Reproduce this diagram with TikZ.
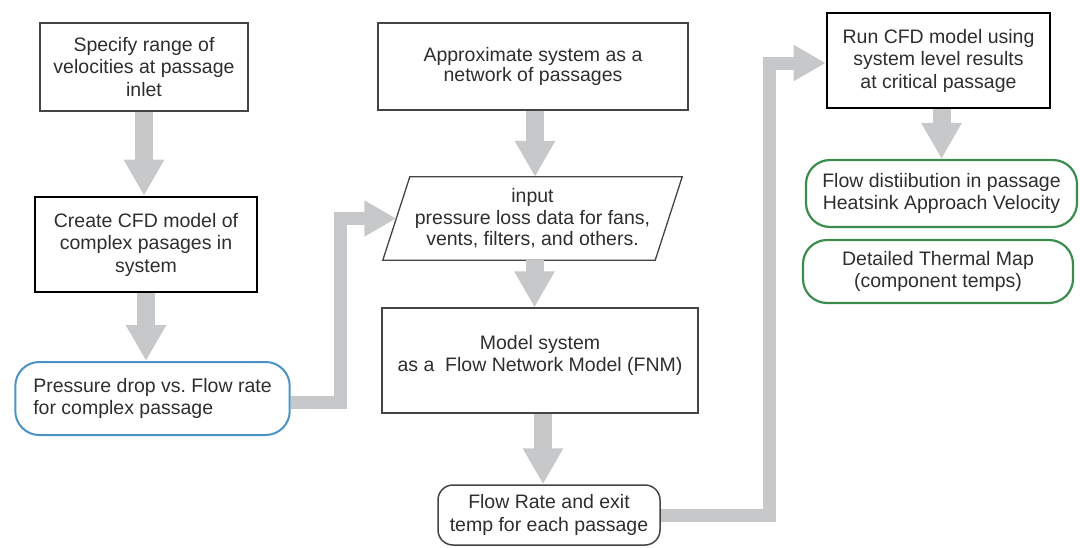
\documentclass[tikz,border=0pt]{standalone}
\usepackage{fontspec}
\setmainfont{Liberation Sans}
\usetikzlibrary{arrows.meta,calc}
\frenchspacing

\definecolor{txtgray}{HTML}{2E2E2E}
\definecolor{pipegray}{HTML}{C6C8CA}
\definecolor{edgegray}{HTML}{444444}
\definecolor{passblue}{HTML}{4A93C4}
\definecolor{resgreen}{HTML}{3C8C4E}

\tikzset{
  every node/.style={text=txtgray, font=\fontsize{19.5}{22.5}\selectfont},
  plainbox/.style={draw=edgegray, line width=1.3pt, align=center, inner sep=0pt},
  heavybox/.style={draw=black, line width=2.6pt, align=center, inner sep=0pt},
  bluebox/.style={draw=passblue, line width=2pt, rounded corners=24pt, align=left, inner xsep=18pt},
  greenbox/.style={draw=resgreen, line width=2.2pt, rounded corners=24pt, align=center, inner sep=0pt},
  greybox/.style={draw=edgegray, line width=1.5pt, rounded corners=15pt, align=center, inner sep=0pt},
  fatarrow/.style={draw=pipegray, line width=18pt, -{Triangle[width=38pt,length=36pt]}},
  pipe/.style={draw=pipegray, line width=13pt, line join=miter, -{Triangle[width=34pt,length=32pt]}}
}

\begin{document}
\begin{tikzpicture}[x=1pt,y=-1pt]
\useasboundingbox (0,0) rectangle (1080,547);

% left column
\node[plainbox, minimum width=208pt, minimum height=88pt] (spec) at (144,67)
  {Specify range of\\velocities at passage\\inlet};
\node[heavybox, minimum width=222pt, minimum height=95pt] (cfd) at (146,244.5)
  {Create CFD model of\\complex pasages in\\system};
\node[bluebox, minimum height=73pt] (pdrop) at (152.5,398.5)
  {Pressure drop vs. Flow rate\\for complex passage};

% middle column
\node[plainbox, minimum width=310pt, minimum height=87pt, font=\fontsize{19.5}{20}\selectfont] (approx) at (533,66.5)
  {Approximate system as a\\network of passages};
\node[align=center, inner sep=0pt, minimum width=272pt, minimum height=83pt,
      font=\fontsize{19.5}{21.5}\selectfont] (inp) at (532.5,218.5)
  {input\\pressure loss data for fans,\\vents, filters, and others.};
\draw[edgegray, line width=1.3pt]
  ($(inp.south west)+(-13.5,0)$) -- ($(inp.north west)+(13.5,0)$) --
  ($(inp.north east)+(13.5,0)$) -- ($(inp.south east)+(-13.5,0)$) -- cycle;
% text sits a little above the middle of this box
\node[plainbox, minimum width=316pt, minimum height=105pt, text depth=14pt] (fnm) at (540,360.5)
  {Model system\\as a\ \ Flow Network Model (FNM)};
\node[greybox, minimum width=222pt, minimum height=60pt] (rate) at (549,515)
  {Flow Rate and exit\\temp for each passage};

% right column
\node[heavybox, minimum width=223pt, minimum height=95pt] (run) at (938.5,60.5)
  {Run CFD model using\\system level results\\at critical passage};
\node[greenbox, minimum width=271pt, minimum height=67pt] (dist) at (941.5,193.5)
  {Flow distiibution in passage\\Heatsink Approach Velocity};
\node[greenbox, minimum width=270pt, minimum height=63pt] (therm) at (938,271.5)
  {Detailed Thermal Map\\(component temps)};

% straight arrows
\draw[fatarrow] (spec.south) -- (spec.south |- cfd.north);
\draw[fatarrow] (cfd.south) -- (cfd.south |- pdrop.north);
\draw[fatarrow] ($(approx.south)+(2,0)$) -- ($(approx.south |- inp.north)+(2,0)$);
\draw[fatarrow] ($(inp.south)+(2,0)$) -- ($(inp.south |- fnm.north)+(2,0)$);
\draw[fatarrow] ($(fnm.south)+(3,0)$) -- ($(fnm.south |- rate.north)+(3,0)$);
\draw[fatarrow] ($(run.south)+(3,0)$) -- ($(run.south |- dist.north)+(3,0)$);

% elbow connectors
\draw[pipe] ($(pdrop.east)+(0,3.5)$) -- ++(50,0) |- (inp.west);
\draw[pipe] (rate.east) -- ++(109,0) |- ($(run.west)+(0,2.5)$);
\end{tikzpicture}
\end{document}
